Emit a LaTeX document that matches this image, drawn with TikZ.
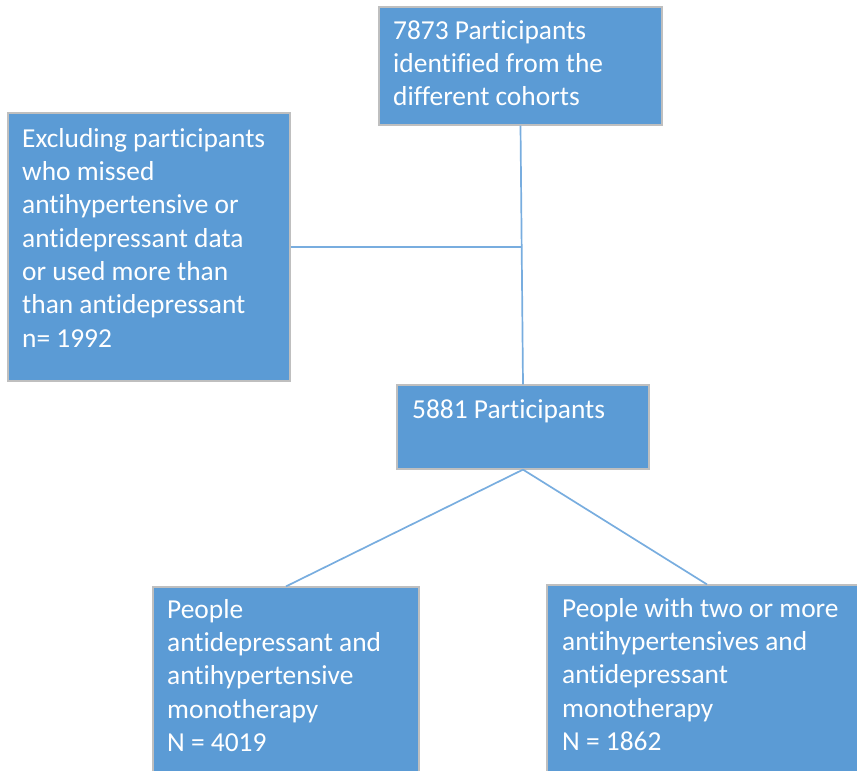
\documentclass[tikz,border=0pt]{standalone}
\usepackage{fontspec}
\setmainfont{Carlito}[Ligatures={NoCommon}]
\definecolor{boxblue}{HTML}{5B9BD5}
\definecolor{boxedge}{HTML}{BFBFBF}
\definecolor{linkblue}{HTML}{78ADDF}
\begin{document}
\begin{tikzpicture}[x=1pt,y=-1pt,
  flowbox/.style={draw=boxedge, line width=1.2pt, fill=boxblue, inner sep=0pt},
  boxtext/.style={anchor=north west, inner sep=0pt, align=left, text=white,
    font=\fontsize{27.4}{33.3}\selectfont},
  conn/.style={draw=linkblue, line width=1.7pt}]
\useasboundingbox (0,0) rectangle (857,771);
\clip (0,0) rectangle (857,771);
% boxes
\node[flowbox, minimum width=283pt, minimum height=118pt] (A) at (520.5,66) {};
\node[flowbox, minimum width=282pt, minimum height=268pt] (B) at (149,247) {};
\node[flowbox, minimum width=252pt, minimum height=84pt] (C) at (523,427) {};
\node[flowbox, minimum width=266pt, minimum height=213pt] (D) at (286,693.5) {};
\node[flowbox, minimum width=320pt, minimum height=215pt] (E) at (707,692.5) {};
% texts
\node[boxtext] (At) at (393,15.7) {\strut 7873 Participants\\identified from the\\different cohorts};
\node[boxtext] (Bt) at (22,123.7) {\strut Excluding participants\\who missed\\antihypertensive or\\antidepressant data\\or used more than\\than antidepressant\\n= 1992};
\node[boxtext] (Ct) at (412,394.7) {\strut 5881 Participants};
\node[boxtext] (Dt) at (167,594.7) {\strut People\\antidepressant and\\antihypertensive\\monotherapy\\N = 4019};
\node[boxtext] (Et) at (562,593.7) {\strut People with two or more\\antihypertensives and\\antidepressant\\monotherapy\\N = 1862};
% connectors
\coordinate (J) at (521.7,247);
\draw[conn] (A.south) -- (C.north);
\draw[conn] (B.east) -- (J);
\draw[conn] (C.south) -- (D.north);
\draw[conn] (C.south) -- (E.north);
\end{tikzpicture}
\end{document}
